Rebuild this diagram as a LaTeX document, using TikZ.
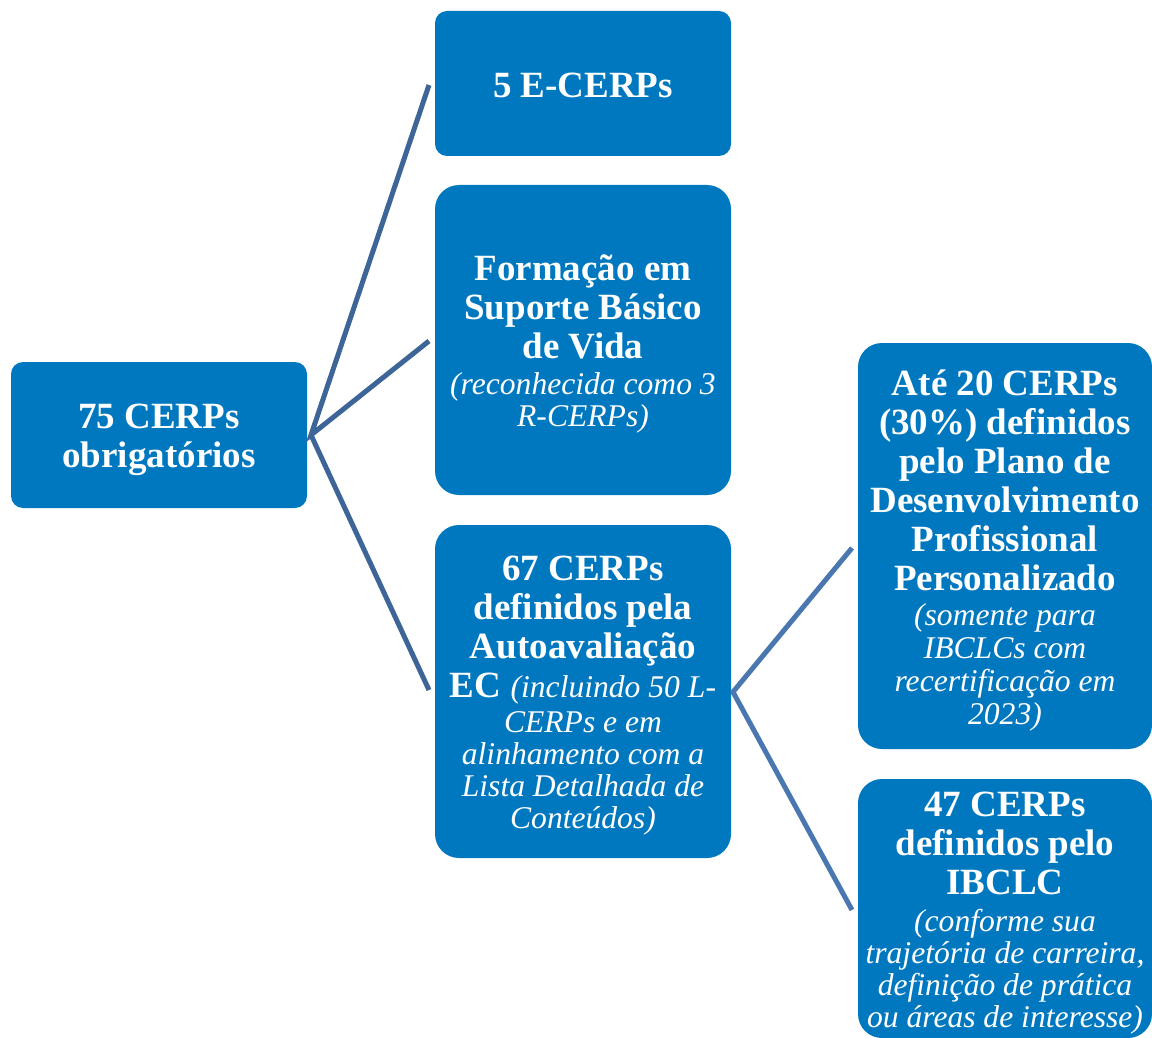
\documentclass[tikz,border=0pt]{standalone}
\usepackage{fontspec}
\setmainfont{Liberation Serif}
\definecolor{boxblue}{HTML}{0078BF}
\definecolor{lineA}{HTML}{3E6598}
\definecolor{lineB}{HTML}{4A77AF}
\newcommand\ital[1]{{\fontsize{15.8}{16.5}\selectfont\mdseries\itshape #1}}
\tikzset{
  cbox/.style={fill=boxblue, inner sep=0pt},
  ctext/.style={text=white, align=center, inner sep=0pt,
    font=\fontsize{18.5}{19.5}\selectfont\bfseries},
  conA/.style={draw=lineA, line width=2.5pt},
  conB/.style={draw=lineB, line width=2.5pt},
}
\begin{document}
\begin{tikzpicture}[x=0.5pt,y=-0.5pt]
\useasboundingbox (0,0) rectangle (1152,1038);
\node[cbox, rounded corners=6pt, minimum width=148pt, minimum height=73pt] (root) at (159,435) {};
\node[cbox, rounded corners=6pt, minimum width=148pt, minimum height=72.5pt] (b1) at (583,83.5) {};
\node[cbox, rounded corners=12pt, minimum width=148pt, minimum height=155pt] (b2) at (583,340) {};
\node[cbox, rounded corners=12pt, minimum width=148pt, minimum height=166.5pt] (b3) at (583,691.5) {};
\node[cbox, rounded corners=12pt, minimum width=147pt, minimum height=203pt] (b4) at (1005,546) {};
\node[cbox, rounded corners=12pt, minimum width=147pt, minimum height=129.5pt] (b5) at (1005,908.5) {};

\node[ctext] (roott) at ([yshift=-2.5pt]root.center) {75 CERPs\\obrigatórios};
\node[ctext] (b1t) at ([yshift=-1pt]b1.center) {5 E-CERPs};
\node[ctext] (b2t) at ([yshift=-2pt]b2.center)
  {Formação em\\Suporte Básico\\de Vida\\[-1.5pt]\ital{(reconhecida como 3}\\[-3.5pt]\ital{R-CERPs)}};
\node[ctext] (b3t) at ([yshift=-2pt]b3.center)
  {67 CERPs\\definidos pela\\Autoavaliação\\EC \ital{(incluindo 50 L-}\\[-2pt]\ital{CERPs e em}\\[-3.5pt]\ital{alinhamento com a}\\[-3.5pt]\ital{Lista Detalhada de}\\[-3.5pt]\ital{Conteúdos)}};
\node[ctext] (b4t) at ([yshift=-2.5pt]b4.center)
  {Até 20 CERPs\\(30\%) definidos\\pelo Plano de\\Desenvolvimento\\Profissional\\Personalizado\\[-2pt]\ital{(somente para}\\[-3pt]\ital{IBCLCs com}\\[-3pt]\ital{recertificação em}\\[-3pt]\ital{2023)}};
\node[ctext] (b5t) at ([yshift=-2.5pt]b5.center)
  {47 CERPs\\definidos pelo\\IBCLC\\[-1pt]\ital{(conforme sua}\\[-3.5pt]\ital{trajetória de carreira,}\\[-3.5pt]\ital{definição de prática}\\[-3.5pt]\ital{ou áreas de interesse)}};

\coordinate (h1) at (311,435);
\coordinate (e1) at (429,85);
\coordinate (e2) at (429,341);
\coordinate (e3) at (429,690);
\coordinate (h2) at (733,692);
\coordinate (e4) at (852,548);
\coordinate (e5) at (852,910);
\draw[conA] (e1) -- (h1) -- (e2);
\draw[conA] (h1) -- (e3);
\draw[conB] (e4) -- (h2) -- (e5);
\end{tikzpicture}
\end{document}
